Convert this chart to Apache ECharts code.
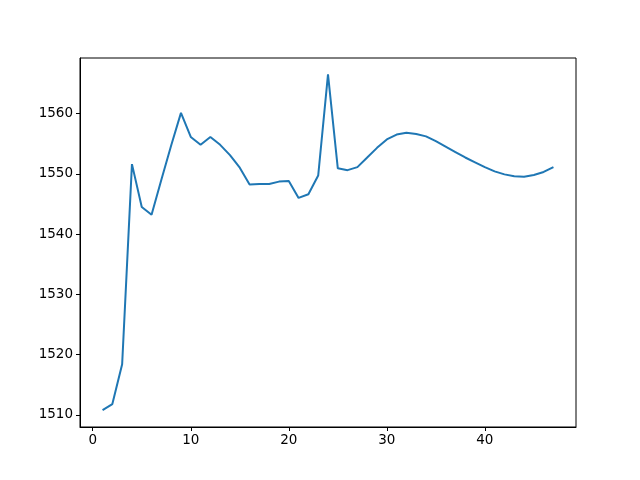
<!DOCTYPE html>
<html><head><meta charset="utf-8">
<script src="https://cdn.jsdelivr.net/npm/echarts@6/dist/echarts.min.js"></script>
<style>html,body{margin:0;padding:0;background:#fff}#c{width:640px;height:480px}</style>
</head><body><div id="c"></div>
<script>
const xValues = [1,2,3,4,5,6,7,8,9,10,11,12,13,14,15,16,17,18,19,20,21,22,23,24,25,26,27,28,29,30,31,32,33,34,35,36,37,38,39,40,41,42,43,44,45,46,47];
const yValues = [1510.8,1511.8,1518.4,1551.6,1544.5,1543.2,1549.0,1554.7,1560.1,1556.1,1554.8,1556.1,1554.8,1553.1,1551.0,1548.2,1548.3,1548.3,1548.7,1548.8,1546.0,1546.6,1549.7,1566.5,1550.9,1550.6,1551.1,1552.7,1554.3,1555.7,1556.5,1556.8,1556.6,1556.2,1555.4,1554.5,1553.6,1552.7,1551.9,1551.1,1550.4,1549.9,1549.6,1549.5,1549.8,1550.3,1551.1];
const xTicks = [0,10,20,30,40];
const yTicks = [1510,1520,1530,1540,1550,1560];

const chart = echarts.init(document.getElementById('c'));
const font = {fontFamily:'DejaVu Sans', fontSize:13.5, color:'#000'};
chart.setOption({
  animation:false,
  grid:{left:80,right:64,top:58,bottom:53,show:true,borderColor:'#000',borderWidth:1,backgroundColor:'transparent'},
  xAxis:{type:'value',min:-1.3,max:49.3,
    axisLine:{show:true,onZero:false,lineStyle:{color:'#000',width:1}},
    axisTick:{show:true,length:4,lineStyle:{color:'#000'},customValues:xTicks},
    axisLabel:Object.assign({margin:6,customValues:xTicks,formatter:v=>String(v)},font),
    splitLine:{show:false}},
  yAxis:{type:'value',min:1508.0,max:1569.2,
    axisLine:{show:true,onZero:false,lineStyle:{color:'#000',width:1}},
    axisTick:{show:true,length:4,lineStyle:{color:'#000'},customValues:yTicks},
    axisLabel:Object.assign({margin:7,customValues:yTicks,formatter:v=>String(v)},font),
    splitLine:{show:false}},
  series:[{type:'line',data:xValues.map((x,i)=>[x,yValues[i]]),showSymbol:false,symbol:'none',
    lineStyle:{color:'#1f77b4',width:2}}]
});
</script></body></html>
